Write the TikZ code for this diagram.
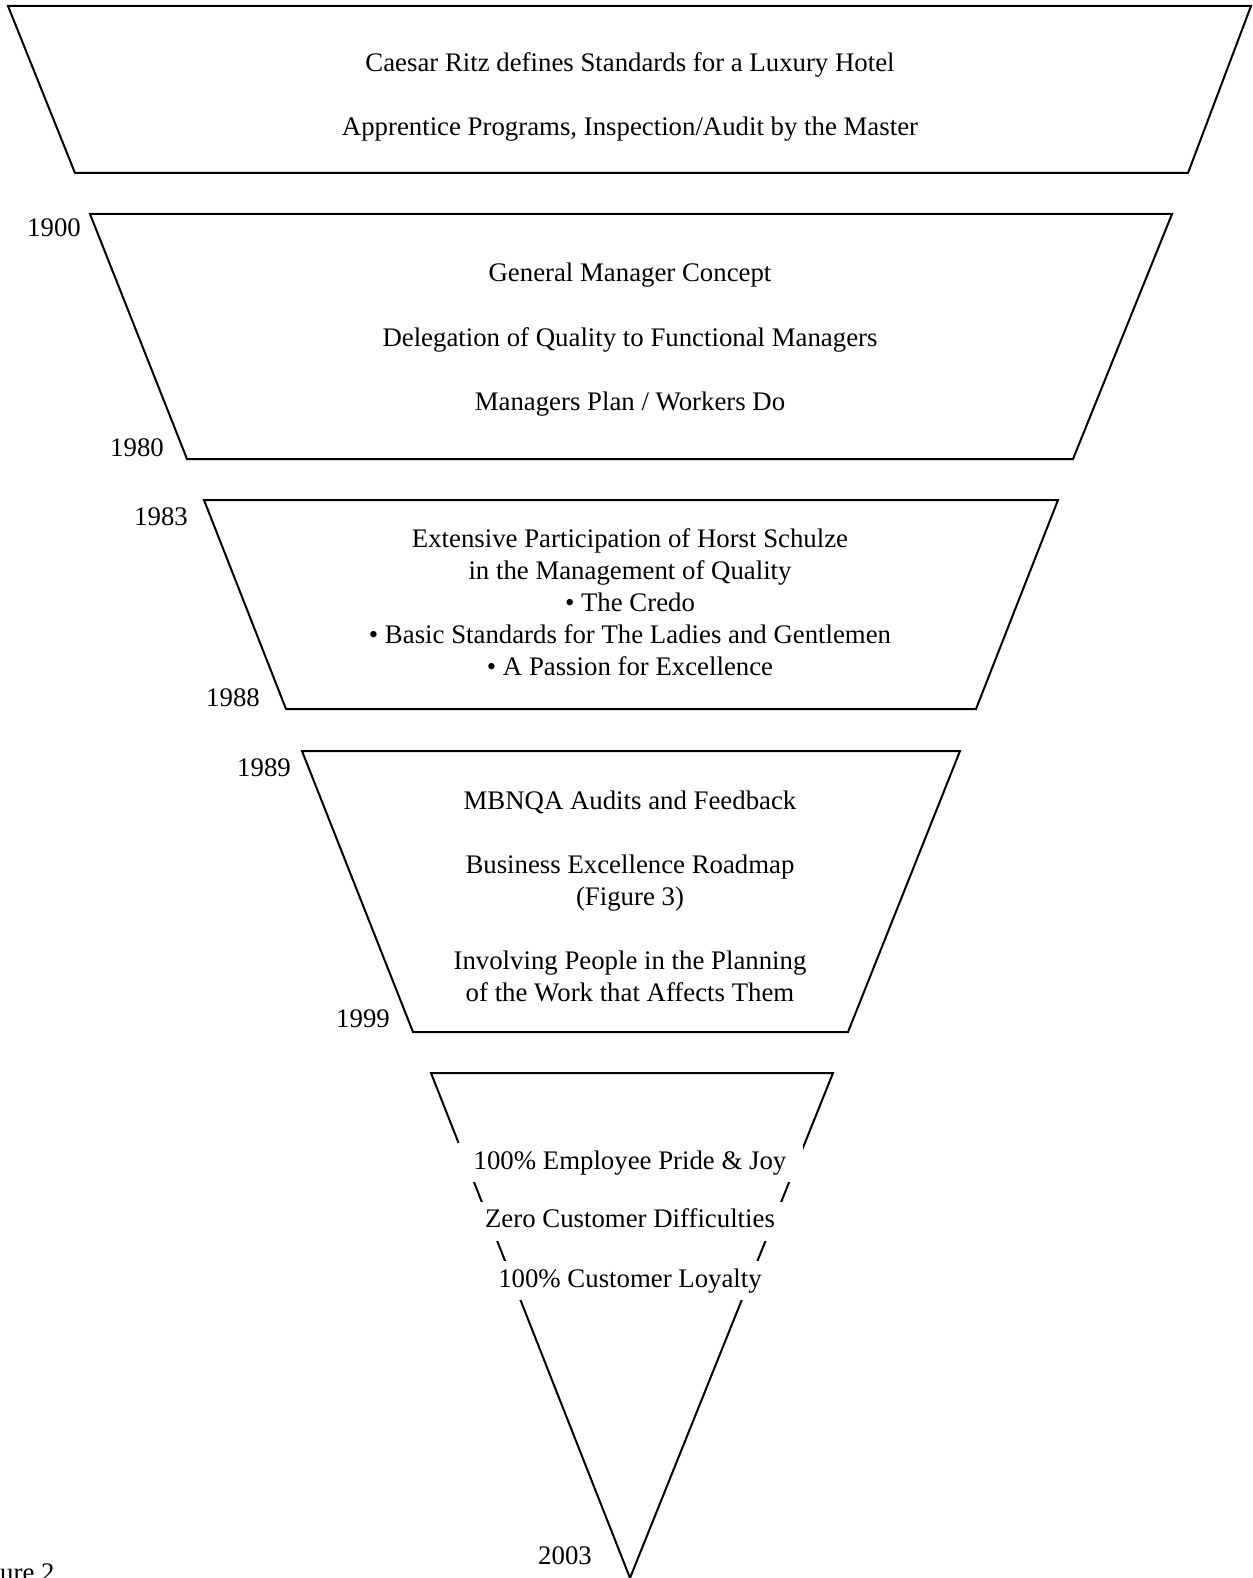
\documentclass[tikz,border=0pt]{standalone}
\usepackage{fontspec}
\setmainfont{Liberation Serif}
\begin{document}
\begin{tikzpicture}[x=1pt,y=-1pt,
  stagebox/.style={draw=black,line width=2pt,line join=miter},
  txt/.style={font=\fontsize{26.8}{32}\selectfont,inner sep=0pt,anchor=base},
  yr/.style={font=\fontsize{26.8}{32}\selectfont,inner sep=0pt,anchor=base east},
  gapt/.style={font=\fontsize{26.8}{32}\selectfont,fill=white,text height=19pt,text depth=6pt,inner ysep=7pt,inner xsep=17pt}]
\clip (0,0) rectangle (1252,1578);
\fill[white] (0,0) rectangle (1252,1578);
% stage 1
\draw[stagebox] (8,6) -- (1251,6) -- (1188,173) -- (75,173) -- cycle;
\node[txt] (a1) at (630,72) {Caesar Ritz defines Standards for a Luxury Hotel};
\node[txt] (a2) at (630,136) {Apprentice Programs, Inspection/Audit by the Master};
% stage 2
\draw[stagebox] (90,214) -- (1172,214) -- (1073,459) -- (187,459) -- cycle;
\node[yr] (y1900) at (81,237) {1900};
\node[yr] (y1980) at (164,456) {1980};
\node[txt] (b1) at (630,282) {General Manager Concept};
\node[txt] (b2) at (630,346) {Delegation of Quality to Functional Managers};
\node[txt] (b3) at (630,410) {Managers Plan / Workers Do};
% stage 3
\draw[stagebox] (204,500) -- (1058,500) -- (976,709) -- (286,709) -- cycle;
\node[yr] (y1983) at (188,525) {1983};
\node[yr] (y1988) at (260,706) {1988};
\node[txt] (c1) at (630,547) {Extensive Participation of Horst Schulze};
\node[txt] (c2) at (630,579) {in the Management of Quality};
\node[txt] (c3) at (630,611) {• The Credo};
\node[txt] (c4) at (630,643) {• Basic Standards for The Ladies and Gentlemen};
\node[txt] (c5) at (630,675) {• A Passion for Excellence};
% stage 4
\draw[stagebox] (302,751) -- (960,751) -- (848,1032) -- (413,1032) -- cycle;
\node[yr] (y1989) at (291,776) {1989};
\node[yr] (y1999) at (390,1027) {1999};
\node[txt] (d1) at (630,809) {MBNQA Audits and Feedback};
\node[txt] (d2) at (630,873) {Business Excellence Roadmap};
\node[txt] (d3) at (630,905) {(Figure 3)};
\node[txt] (d4) at (630,969) {Involving People in the Planning};
\node[txt] (d5) at (630,1001) {of the Work that Affects Them};
% stage 5
\draw[stagebox] (630,1578) -- (431,1073) -- (833,1073) -- cycle;
\node[gapt] (e1) at (630,1162.5) {100\% Employee Pride \& Joy};
\node[gapt] (e2) at (630,1221) {Zero Customer Difficulties};
\node[gapt] (e3) at (630,1280.5) {100\% Customer Loyalty};
\node[yr] (y2003) at (592,1564) {2003};
% caption
\node[txt,anchor=base west] (cap) at (0,1581) {ure 2};
\end{tikzpicture}
\end{document}
